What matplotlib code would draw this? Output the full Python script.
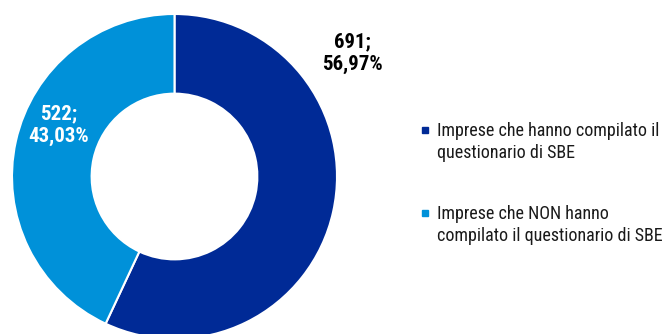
import matplotlib
matplotlib.use("Agg")
import matplotlib.pyplot as plt
from matplotlib.patches import Rectangle
from matplotlib import font_manager

categories = ["Imprese che hanno compilato il\nquestionario di SBE",
              "Imprese che NON hanno\ncompilato il questionario di SBE"]
values = [691, 522]
pct_labels = ["56,97%", "43,03%"]
colors = ["#002A96", "#0091D9"]

names = {f.name for f in font_manager.fontManager.ttflist}
fam = "DejaVu Sans"
for cand in ["Roboto Condensed", "Archivo Narrow", "Barlow Semi Condensed",
             "Barlow Condensed", "Asap Condensed"]:
    if cand in names:
        fam = cand
        break
plt.rcParams['font.family'] = [fam, 'DejaVu Sans']

W, H = 670, 334
fig = plt.figure(figsize=(W/100, H/100), dpi=100)
cx, cy, r = 174.5, 334 - 176.5, 162.5
ax = fig.add_axes([(cx - r)/W, (cy - r)/H, 2*r/W, 2*r/H])
ax.pie(values, colors=colors, startangle=90, counterclock=False, radius=1,
       wedgeprops=dict(width=0.49, edgecolor="white", linewidth=1.5))
ax.set_xlim(-1, 1); ax.set_ylim(-1, 1)
ax.set_aspect('equal')
ax.axis('off')

fig.text(352/W, 1 - 53/H, f"{values[0]};\n{pct_labels[0]}", ha="center", va="center",
         fontsize=15, fontweight="bold", color="black", linespacing=1.25)
fig.text(59/W, 1 - 125/H, f"{values[1]};\n{pct_labels[1]}", ha="center", va="center",
         fontsize=15, fontweight="bold", color="white", linespacing=1.25)

ys = [142, 225]
for cat, col, y in zip(categories, colors, ys):
    fig.add_artist(Rectangle((422/W, 1 - (y - 12 + 3)/H), 6/W, 6/H,
                             transform=fig.transFigure, color=col))
    fig.text(437/W, 1 - y/H, cat, ha="left", va="center", fontsize=13,
             color="#1a1a1a", linespacing=1.3)
fig.savefig("out.png", dpi=100)
